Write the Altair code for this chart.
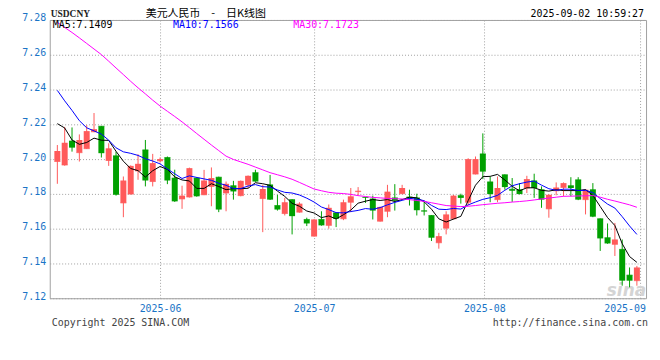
import altair as alt
import pandas as pd

# ---------------- data ----------------
# closes of the 9 sessions before the first drawn candle (only feed the MA5/MA10 start)
prior_closes = [7.2694, 7.2616, 7.2700, 7.2571, 7.2349, 7.2219, 7.2411, 7.2235, 7.2108]

opens = [
    7.1986, 7.1966, 7.2104, 7.2037, 7.2060, 7.2157, 7.2189, 7.1992, 7.2019, 7.1748,
    7.1799, 7.1932, 7.2053, 7.1871, 7.1990, 7.2009, 7.1891, 7.1771, 7.1782, 7.1891,
    7.1795, 7.1843, 7.1896, 7.1805, 7.1847, 7.1790, 7.1852, 7.1922, 7.1773, 7.1852,
    7.1733, 7.1687, 7.1767, 7.1695, 7.1653, 7.1557, 7.1653, 7.1619, 7.1691, 7.1657,
    7.1752, 7.1813, 7.1780, 7.1771, 7.1643, 7.1700, 7.1777, 7.1801, 7.1782, 7.1777,
    7.1703, 7.1676, 7.1519, 7.1603, 7.1657, 7.1790, 7.1752, 7.1914, 7.2030, 7.1869,
    7.1767, 7.1910, 7.1827, 7.1824, 7.1834, 7.1875, 7.1824, 7.1714, 7.1818, 7.1837,
    7.1847, 7.1881, 7.1767, 7.1824, 7.1657, 7.1548, 7.1510, 7.1481, 7.1333, 7.1301]

highs = [
    7.2081, 7.2185, 7.2182, 7.2142, 7.2195, 7.2265, 7.2190, 7.2091, 7.2043, 7.1900,
    7.1964, 7.2028, 7.2110, 7.2030, 7.2009, 7.2015, 7.1939, 7.1847, 7.1951, 7.1897,
    7.1938, 7.1952, 7.1899, 7.1871, 7.1875, 7.1877, 7.1906, 7.1939, 7.1852, 7.1909,
    7.1795, 7.1777, 7.1769, 7.1752, 7.1663, 7.1655, 7.1700, 7.1739, 7.1693, 7.1767,
    7.1834, 7.1839, 7.1782, 7.1790, 7.1727, 7.1852, 7.1856, 7.1852, 7.1824, 7.1801,
    7.1757, 7.1678, 7.1576, 7.1700, 7.1794, 7.1801, 7.2005, 7.2015, 7.2148, 7.1900,
    7.1900, 7.1912, 7.1891, 7.1862, 7.1904, 7.1916, 7.1843, 7.1797, 7.1866, 7.1866,
    7.1896, 7.1896, 7.1827, 7.1862, 7.1659, 7.1630, 7.1633, 7.1538, 7.1377, 7.1386]

lows = [
    7.1858, 7.1962, 7.2043, 7.1986, 7.2058, 7.2155, 7.2009, 7.1961, 7.1790, 7.1666,
    7.1797, 7.1881, 7.1843, 7.1843, 7.1980, 7.1856, 7.1754, 7.1714, 7.1779, 7.1784,
    7.1793, 7.1729, 7.1695, 7.1700, 7.1767, 7.1786, 7.1834, 7.1869, 7.1580, 7.1765,
    7.1704, 7.1676, 7.1567, 7.1692, 7.1615, 7.1555, 7.1617, 7.1600, 7.1609, 7.1649,
    7.1695, 7.1790, 7.1748, 7.1653, 7.1641, 7.1666, 7.1704, 7.1799, 7.1733, 7.1676,
    7.1676, 7.1529, 7.1485, 7.1567, 7.1653, 7.1744, 7.1733, 7.1912, 7.1885, 7.1752,
    7.1752, 7.1824, 7.1754, 7.1797, 7.1805, 7.1777, 7.1720, 7.1663, 7.1792, 7.1786,
    7.1786, 7.1764, 7.1682, 7.1666, 7.1472, 7.1513, 7.1443, 7.1272, 7.1263, 7.1272]

closes = [
    7.2047, 7.2094, 7.2066, 7.2110, 7.2161, 7.2172, 7.2034, 7.2062, 7.1795, 7.1877,
    7.1961, 7.1973, 7.1877, 7.1977, 7.2000, 7.1877, 7.1757, 7.1790, 7.1948, 7.1786,
    7.1877, 7.1891, 7.1710, 7.1858, 7.1814, 7.1875, 7.1904, 7.1871, 7.1828, 7.1767,
    7.1710, 7.1752, 7.1672, 7.1744, 7.1630, 7.1653, 7.1619, 7.1720, 7.1657, 7.1752,
    7.1786, 7.1818, 7.1777, 7.1704, 7.1725, 7.1813, 7.1761, 7.1834, 7.1773, 7.1706,
    7.1699, 7.1548, 7.1557, 7.1682, 7.1790, 7.1777, 7.2000, 7.2000, 7.1928, 7.1799,
    7.1834, 7.1839, 7.1818, 7.1799, 7.1885, 7.1834, 7.1767, 7.1795, 7.1837, 7.1862,
    7.1834, 7.1767, 7.1824, 7.1669, 7.1544, 7.1515, 7.1538, 7.1301, 7.1301, 7.1377]

ma30 = [
    7.2786, 7.2757, 7.2728, 7.2697, 7.2665, 7.2633, 7.2601, 7.2563, 7.2524, 7.2486,
    7.2447, 7.2410, 7.2375, 7.2339, 7.2305, 7.2275, 7.2245, 7.2214, 7.2181, 7.2147,
    7.2114, 7.2081, 7.2049, 7.2017, 7.1998, 7.1984, 7.1970, 7.1954, 7.1938, 7.1922,
    7.1910, 7.1898, 7.1884, 7.1866, 7.1847, 7.1828, 7.1818, 7.1809, 7.1804, 7.1802,
    7.1797, 7.1790, 7.1785, 7.1780, 7.1777, 7.1774, 7.1772, 7.1771, 7.1767, 7.1762,
    7.1757, 7.1749, 7.1741, 7.1733, 7.1730, 7.1727, 7.1729, 7.1733, 7.1738, 7.1742,
    7.1746, 7.1749, 7.1753, 7.1756, 7.1760, 7.1765, 7.1771, 7.1776, 7.1781, 7.1786,
    7.1787, 7.1788, 7.1789, 7.1790, 7.1781, 7.1769, 7.1759, 7.1748, 7.1737, 7.1723]

legend_names = ["MA5", "MA10", "MA30"]
legend_values = ["7.1409", "7.1566", "7.1723"]
y_ticks = [7.12, 7.14, 7.16, 7.18, 7.20, 7.22, 7.24, 7.26, 7.28]
month_pos = [14, 35, 58.2, 79.5]
month_labels = ["2025-06", "2025-07", "2025-08", "2025-09"]

symbol = "USDCNY"
title_text = "美元人民币\u2002\u2002-\u2002\u2002日K线图"
stamp_text = "2025-09-02 10:59:27"
footer_left = "Copyright 2025 SINA.COM"
footer_right = "http://finance.sina.com.cn"

# ---------------- styling ----------------
RED = "#ff5a5a"
GREEN = "#00a000"
BLUE_LBL = "#1a74c6"
MA_COLORS = ["#000000", "#0000ff", "#ff00ff"]
MONO = "DejaVu Sans Mono"

# ---------------- table ----------------
rows = []
n_prior = len(prior_closes)
for i, c in enumerate(prior_closes):
    rows.append({"idx": i - n_prior, "close": c})
for i in range(len(closes)):
    rows.append({"idx": i, "open": opens[i], "high": highs[i], "low": lows[i],
                 "close": closes[i], "ma30": ma30[i]})
df = pd.DataFrame(rows)

label_map = "{" + ",".join(f"'{p}':'{l}'" for p, l in zip(month_pos, month_labels)) + "}"

x_scale = alt.Scale(domain=[-0.36, 79.57], nice=False, zero=False)
y_scale = alt.Scale(domain=[7.12, 7.28], nice=False, zero=False)
x_axis = alt.Axis(values=month_pos, labelExpr=f"{label_map}[''+datum.value]",
                  labelFlush=8, labelFlushOffset=5, labelPadding=5, title=None)
y_axis = alt.Axis(values=y_ticks, format=".2f", labelPadding=4, labelOffset=-2, title=None)

X = alt.X("idx:Q", scale=x_scale, axis=x_axis)


def Y(field):
    return alt.Y(f"{field}:Q", scale=y_scale, axis=y_axis)


base = (alt.Chart(df)
        .transform_window(ma5="mean(close)", frame=[-4, 0], sort=[alt.SortField("idx")])
        .transform_window(ma10="mean(close)", frame=[-9, 0], sort=[alt.SortField("idx")])
        .transform_filter("datum.idx >= 0"))

color = alt.condition("datum.close >= datum.open", alt.value(RED), alt.value(GREEN))

wicks = base.mark_rule(strokeWidth=1).encode(x=X, y=Y("low"), y2="high:Q", color=color)
bodies = base.mark_bar(size=6).encode(x=X, y=Y("open"), y2="close:Q", color=color)
flat = base.mark_tick(orient="horizontal", thickness=1, size=6).encode(x=X, y=Y("open"), color=color)

ma_fields = ["ma5", "ma10", "ma30"]
lines = [base.mark_line(strokeWidth=1, color=c).encode(x=X, y=Y(f))
         for f, c in zip(ma_fields, MA_COLORS)]


def txt(s, x, y, **kw):
    return alt.Chart(pd.DataFrame({"t": [s]})).mark_text(**kw).encode(
        x=alt.value(x), y=alt.value(y), text="t:N")


watermark = txt("sina", 600, 278, font="DejaVu Sans", fontSize=17, fontStyle="italic",
                fontWeight="bold", color="#d4d4d4", align="right", baseline="alphabetic")

legend_x = [3, 124, 245]
legend_layers = [txt(f"{n}:{v}", lx, 8.5, font=MONO, fontSize=10, color=c,
                     align="left", baseline="alphabetic")
                 for n, v, c, lx in zip(legend_names, legend_values, MA_COLORS, legend_x)]

header = [
    txt(symbol, 1, -3, font="Liberation Serif", fontSize=9.5, fontWeight="bold",
        color="#222222", align="left", baseline="alphabetic"),
    txt(title_text, 157, -2.5, font="Noto Sans CJK SC", fontSize=11, color="#000000",
        align="center", baseline="alphabetic"),
    txt(stamp_text, 598, -3, font=MONO, fontSize=10, color="#000000",
        align="right", baseline="alphabetic"),
    txt(footer_left, 2, 307.5, font=MONO, fontSize=10, color="#444444",
        align="left", baseline="alphabetic"),
    txt(footer_right, 602, 307.5, font=MONO, fontSize=10, color="#444444",
        align="right", baseline="alphabetic"),
]

chart = (alt.layer(watermark, wicks, bodies, flat, *lines, *legend_layers, *header)
         .properties(width=600, height=280,
                     padding={"left": 42, "top": 11, "right": 6, "bottom": 45},
                     autosize=alt.AutoSizeParams(type="none"),
                     background="#ffffff")
         .configure_view(stroke="#a0a0a0", strokeWidth=1)
         .configure_axis(labelFont=MONO, labelFontSize=10, labelColor=BLUE_LBL,
                         grid=True, gridColor="#a0a0a0", gridDash=[1, 2],
                         domain=False, ticks=False, tickSize=0))

chart.save("out.html", embed_options={"renderer": "svg", "actions": False})
